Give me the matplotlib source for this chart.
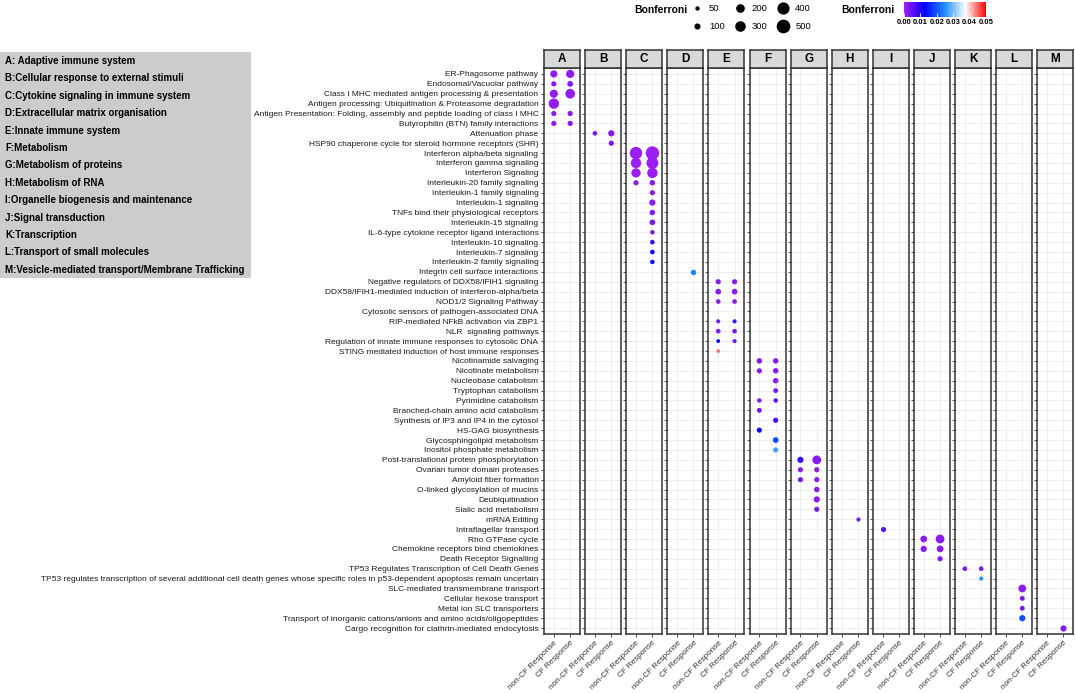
import numpy as np
import pandas as pd
import matplotlib
matplotlib.use("Agg")
import matplotlib.pyplot as plt
from matplotlib.colors import LinearSegmentedColormap, Normalize
from matplotlib.cm import ScalarMappable
from matplotlib.lines import Line2D
from matplotlib.patches import Rectangle

plt.rcParams['font.family'] = ['Liberation Sans', 'DejaVu Sans']

category_names = [
    "A: Adaptive immune system",
    "B:Cellular response to external stimuli",
    "C:Cytokine signaling in immune system",
    "D:Extracellular matrix organisation",
    "E:Innate immune system",
    "F:Metabolism",
    "G:Metabolism of proteins",
    "H:Metabolism of RNA",
    "I:Organelle biogenesis and maintenance",
    "J:Signal transduction",
    "K:Transcription",
    "L:Transport of small molecules",
    "M:Vesicle-mediated transport/Membrane Trafficking",
]
panel_letters = list("ABCDEFGHIJKLM")
groups = ["non-CF Response", "CF Response"]

pathways = [
    "ER-Phagosome pathway",
    "Endosomal/Vacuolar pathway",
    "Class I MHC mediated antigen processing & presentation",
    "Antigen processing: Ubiquitination & Proteasome degradation",
    "Antigen Presentation: Folding, assembly and peptide loading of class I MHC",
    "Butyrophilin (BTN) family interactions",
    "Attenuation phase",
    "HSP90 chaperone cycle for steroid hormone receptors (SHR)",
    "Interferon alpha/beta signaling",
    "Interferon gamma signaling",
    "Interferon Signaling",
    "Interleukin-20 family signaling",
    "Interleukin-1 family signaling",
    "Interleukin-1 signaling",
    "TNFs bind their physiological receptors",
    "Interleukin-15 signaling",
    "IL-6-type cytokine receptor ligand interactions",
    "Interleukin-10 signaling",
    "Interleukin-7 signaling",
    "Interleukin-2 family signaling",
    "Integrin cell surface interactions",
    "Negative regulators of DDX58/IFIH1 signaling",
    "DDX58/IFIH1-mediated induction of interferon-alpha/beta",
    "NOD1/2 Signaling Pathway",
    "Cytosolic sensors of pathogen-associated DNA",
    "RIP-mediated NFkB activation via ZBP1",
    "NLR  signaling pathways",
    "Regulation of innate immune responses to cytosolic DNA",
    "STING mediated induction of host immune responses",
    "Nicotinamide salvaging",
    "Nicotinate metabolism",
    "Nucleobase catabolism",
    "Tryptophan catabolism",
    "Pyrimidine catabolism",
    "Branched-chain amino acid catabolism",
    "Synthesis of IP3 and IP4 in the cytosol",
    "HS-GAG biosynthesis",
    "Glycosphingolipid metabolism",
    "Inositol phosphate metabolism",
    "Post-translational protein phosphorylation",
    "Ovarian tumor domain proteases",
    "Amyloid fiber formation",
    "O-linked glycosylation of mucins",
    "Deubiquitination",
    "Sialic acid metabolism",
    "mRNA Editing",
    "Intraflagellar transport",
    "Rho GTPase cycle",
    "Chemokine receptors bind chemokines",
    "Death Receptor Signalling",
    "TP53 Regulates Transcription of Cell Death Genes",
    "TP53 regulates transcription of several additional cell death genes whose specific roles in p53-dependent apoptosis remain uncertain",
    "SLC-mediated transmembrane transport",
    "Cellular hexose transport",
    "Metal ion SLC transporters",
    "Transport of inorganic cations/anions and amino acids/oligopeptides",
    "Cargo recognition for clathrin-mediated endocytosis",
]

pathway_panel = (["A"] * 6 + ["B"] * 2 + ["C"] * 12 + ["D"] + ["E"] * 8 + ["F"] * 10
                 + ["G"] * 6 + ["H"] + ["I"] + ["J"] * 3 + ["K"] * 2 + ["L"] * 4 + ["M"])

N = None
size_noncf = [170, 87, 220, 350, 87, 87,
              70, N,
              500, 350, 280, 87, N, N, N, N, N, N, N, N,
              N,
              87, 105, 70, N, 55, 70, 48, 48,
              97, 87, N, N, 64, 77, N, 87, N, N,
              125, 87, 87, N, N, N,
              N,
              87,
              147, 125, N,
              70, N,
              N, N, N, N,
              N]
size_cf = [220, 110, 300, N, 87, 87,
           125, 87,
           590, 460, 350, 97, 87, 125, 97, 105, 64, 70, 70, 64,
           97,
           87, 105, 70, N, 55, 70, 55, N,
           97, 97, 97, 77, 64, N, 87, N, 105, 87,
           250, 87, 87, 97, 125, 87,
           55,
           N,
           250, 147, 87,
           70, 55,
           195, 77, 77, 125,
           125]
p_noncf = [0.001, 0.002, 0.001, 0.001, 0.002, 0.002,
           0.003, N,
           0.0005, 0.0005, 0.0005, 0.002, N, N, N, N, N, N, N, N,
           N,
           0.002, 0.002, 0.002, N, 0.003, 0.002, 0.013, 0.044,
           0.002, 0.002, N, N, 0.003, 0.003, N, 0.011, N, N,
           0.008, 0.002, 0.003, N, N, N,
           N,
           0.006,
           0.002, 0.002, N,
           0.003, N,
           N, N, N, N,
           N]
p_cf = [0.001, 0.002, 0.001, N, 0.002, 0.002,
        0.002, 0.003,
        0.0005, 0.0005, 0.0005, 0.002, 0.002, 0.002, 0.003, 0.003, 0.004, 0.008, 0.011, 0.012,
        0.024,
        0.002, 0.002, 0.002, N, 0.007, 0.003, 0.004, N,
        0.002, 0.002, 0.002, 0.003, 0.006, N, 0.007, N, 0.019, 0.027,
        0.002, 0.002, 0.002, 0.002, 0.002, 0.003,
        0.004,
        N,
        0.002, 0.002, 0.003,
        0.003, 0.025,
        0.002, 0.003, 0.003, 0.019,
        0.002]

legend_sizes = [50, 100, 200, 300, 400, 500]
cbar_ticks = [0.00, 0.01, 0.02, 0.03, 0.04, 0.05]

rows = []
for i, name in enumerate(pathways):
    for g, (sz, pv) in enumerate([(size_noncf[i], p_noncf[i]), (size_cf[i], p_cf[i])]):
        if sz is not None:
            rows.append({"panel": pathway_panel[i], "row": i + 1, "x": g + 1, "size": sz, "p": pv})
df = pd.DataFrame(rows)

W, H = 1075, 693
fig = plt.figure(figsize=(W / 100, H / 100), dpi=100)


def box(left, top, w, h):
    return [left / W, 1 - (top + h) / H, w / W, h / H]


cmap = LinearSegmentedColormap.from_list("bonf", ["#A020F0", "#0000FF", "#1E90FF", "#FFFFFF", "#FF0000"])
norm = Normalize(0, 0.05)
scale = 0.16  # points^2 per unit

pitch = 41.1
for i, letter in enumerate(panel_letters):
    left = 544 + pitch * i
    ax = fig.add_axes(box(left, 68, 36, 566))
    sub = df[df.panel == letter]
    ax.scatter(sub.x, sub.row, s=sub["size"] * scale, c=sub.p, cmap=cmap, norm=norm,
               linewidths=0, zorder=3)
    ax.set_xlim(0.4, 2.6)
    ax.set_ylim(len(pathways) + 0.6, 0.4)
    ax.set_xticks([1, 2])
    ax.set_xticklabels(groups, rotation=45, ha="right", rotation_mode="anchor",
                       fontsize=5.9, color="#333333")
    ax.set_yticks(np.arange(1, len(pathways) + 1))
    if i == 0:
        ax.set_yticklabels(pathways, fontsize=6, color="#1a1a1a")
    else:
        ax.tick_params(axis="y", length=0, labelleft=False)
    ax.grid(color="#EBEBEB", lw=0.6)
    ax.set_axisbelow(True)
    for sp in ax.spines.values():
        sp.set_color("#333333")
        sp.set_linewidth(1.1)
    ax.tick_params(length=2.5, width=0.6, color="#333333", pad=1.5)

    strip = fig.add_axes(box(left, 50, 36, 18))
    strip.set_facecolor("#D9D9D9")
    strip.set_xticks([])
    strip.set_yticks([])
    for sp in strip.spines.values():
        sp.set_color("#333333")
        sp.set_linewidth(1.1)
    strip.text(0.5, 0.5, letter, ha="center", va="center", fontsize=8.5,
               fontweight="bold", transform=strip.transAxes)

# category key box on the left
fig.patches.append(Rectangle((0, 1 - 278 / H), 251 / W, (278 - 52) / H,
                             transform=fig.transFigure, facecolor="#CCCCCC",
                             edgecolor="none", zorder=0))
for j, name in enumerate(category_names):
    fig.text(5 / W, 1 - (61 + 17.4 * j) / H, name, fontsize=7.0, fontweight="bold",
             va="center", ha="left")

# size legend
fig.text(634 / W, 1 - 10 / H, "Bonferroni", fontsize=7.5, fontweight="bold", va="center")
handles = [Line2D([], [], marker="o", ls="none", color="black", markeredgewidth=0,
                  markersize=np.sqrt(v * scale) * 1.1) for v in legend_sizes]
fig.legend(handles, [str(v) for v in legend_sizes], ncol=3, loc="upper left",
           bbox_to_anchor=(689 / W, 1 - 2 / H), frameon=False, fontsize=6.8,
           handletextpad=0.6, columnspacing=1.0, labelspacing=0.95,
           borderaxespad=0, borderpad=0.2, handlelength=1.3)

# colour legend
fig.text(841 / W, 1 - 10 / H, "Bonferroni", fontsize=7.5, fontweight="bold", va="center")
cax = fig.add_axes(box(904, 2, 82, 15))
cb = fig.colorbar(ScalarMappable(norm=norm, cmap=cmap), cax=cax, orientation="horizontal",
                  ticks=cbar_ticks)
cb.ax.set_xticklabels(["%.2f" % t for t in cbar_ticks], fontsize=5.5, fontweight="bold")
cb.ax.tick_params(length=3, width=0.6, color="white", direction="in", pad=1.5)
cb.outline.set_visible(False)

fig.savefig("out.png", dpi=100)
